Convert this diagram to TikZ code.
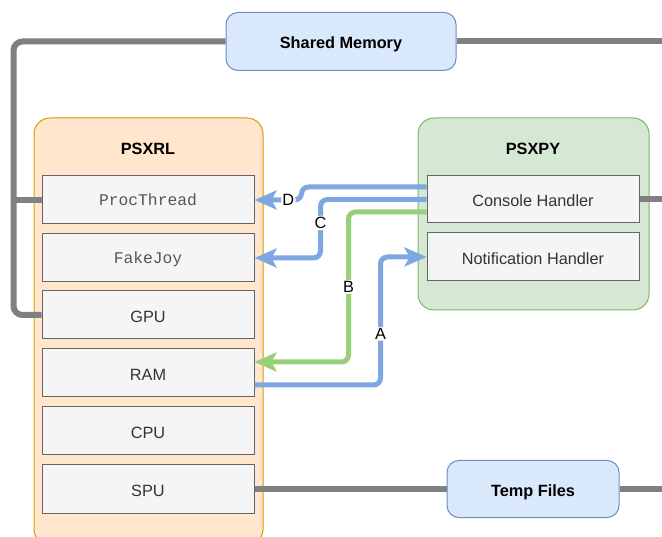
\documentclass[tikz,border=0pt]{standalone}
\usepackage{fontspec}
\setmainfont{Liberation Sans}
\setmonofont{Liberation Mono}
\usetikzlibrary{arrows.meta,calc}

\definecolor{rlfill}{HTML}{FFE6CC}
\definecolor{rlline}{HTML}{D79B00}
\definecolor{pyfill}{HTML}{D5E8D4}
\definecolor{pyline}{HTML}{82B366}
\definecolor{storefill}{HTML}{DAE8FC}
\definecolor{storeline}{HTML}{6C8EBF}
\definecolor{partfill}{HTML}{F5F5F5}
\definecolor{partline}{HTML}{666666}
\definecolor{parttext}{HTML}{333333}
\definecolor{codetext}{HTML}{555555}
\definecolor{busgray}{HTML}{808080}
\definecolor{linkblue}{HTML}{7EA6E0}
\definecolor{linkgreen}{HTML}{97D077}

\begin{document}
\begin{tikzpicture}[x=1pt,y=-1pt,
  txt/.style={font=\fontsize{16.3}{19}\selectfont},
  container/.style={rounded corners=16pt, line width=1pt, inner sep=0pt},
  grouptitle/.style={font=\bfseries\fontsize{16.3}{19}\selectfont},
  part/.style={draw=partline, fill=partfill, line width=1pt, inner sep=0pt,
    minimum width=212pt, minimum height=48pt, text=parttext, txt,
    text height=15pt, text depth=0.5pt},
  codepart/.style={part, text=codetext, text height=13pt, text depth=1pt,
    font=\ttfamily\fontsize{16.3}{19}\selectfont},
  store/.style={draw=storeline, fill=storefill, rounded corners=12pt, line width=1pt,
    inner sep=0pt, text height=15pt, text depth=0.5pt,
    font=\bfseries\fontsize{16.3}{19}\selectfont},
  bus/.style={draw=busgray, line width=6pt},
  flowtip/.style={-{Stealth[length=22pt,width=19pt,inset=5pt]}},
  bluelink/.style={draw=linkblue, line width=5pt, flowtip},
  greenlink/.style={draw=linkgreen, line width=5pt, flowtip},
  softturn/.style={rounded corners=7pt},
  lbl/.style={fill=white, inner sep=1.5pt, txt}]

\useasboundingbox (0,0) rectangle (662,537);
\clip (0,0) rectangle (662,537);

% process containers
\node[container, draw=rlline, fill=rlfill, minimum width=229pt, minimum height=427pt]
  (psxrl) at (148.5,331.5) {};
\node[grouptitle] (rltitle) at (148,148.5) {PSXRL};
\node[container, draw=pyline, fill=pyfill, minimum width=231pt, minimum height=192pt]
  (psxpy) at (533.5,214) {};
\node[grouptitle] (pytitle) at (533,148.5) {PSXPY};

% PSXRL parts
\node[codepart] (pt)  at (148,200) {ProcThread};
\node[codepart] (fj)  at (148,258) {FakeJoy};
\node[part]     (gpu) at (148,315) {GPU};
\node[part]     (ram) at (148,373) {RAM};
\node[part]     (cpu) at (148,431) {CPU};
\node[part]     (spu) at (148,489) {SPU};

% PSXPY parts
\node[part, minimum height=47pt] (ch) at (533,199.5) {Console Handler};
\node[part] (nh) at (533,257) {Notification Handler};

% shared resources
\node[store, minimum width=230pt, minimum height=58pt] (sm) at (341,41.5) {Shared Memory};
\node[store, minimum width=172pt, minimum height=57pt] (tf) at (533,489) {Temp Files};

% free ends at the right edge
\coordinate (smR) at (662,41.5);
\coordinate (chR) at (662,199.5);
\coordinate (tfR) at (662,489);

% gray buses
\draw[bus, rounded corners=9pt] (sm.west) -- ++(-212,0) |- (gpu.west);
\draw[bus] (pt.west) -- ++(-28,0);
\draw[bus] (sm.east) -- (smR);
\draw[bus] (ch.east) -- (chR);
\draw[bus] (spu.east) -- (tf.west);
\draw[bus] (tf.east) -- (tfR);

% message flows (corners rounded only inside the path, so the tips stay sharp)
\draw[bluelink] ($(ch.west)+(0,-12.5)$) {[softturn] -- ++(-125,0)
  |- node[lbl, pos=0.64] {D} (pt.east)};
\draw[bluelink] (ch.west) {[softturn] -- ++(-106,0)
  |- node[lbl, pos=0.2] {C} (fj.east)};
\draw[greenlink] ($(ch.west)+(0,12.5)$) {[softturn] -- ++(-78,0)
  |- node[lbl, pos=0.25] {B} ($(ram.east)+(0,-11)$)};
\draw[bluelink] ($(ram.east)+(0,12)$) {[softturn] -- ++(126,0)
  |- node[lbl, pos=0.2] {A} (nh.west)};

\end{tikzpicture}
\end{document}
